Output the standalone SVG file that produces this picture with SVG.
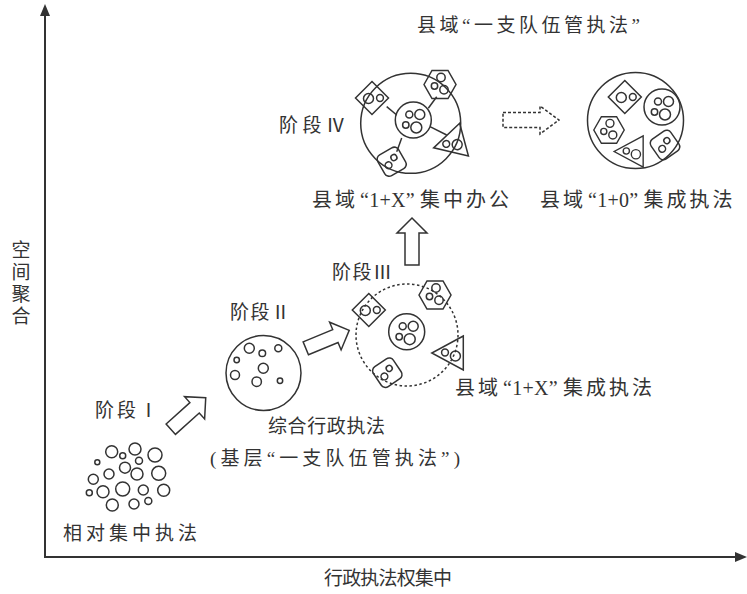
<svg xmlns="http://www.w3.org/2000/svg" xmlns:xlink="http://www.w3.org/1999/xlink" width="747" height="594" viewBox="0 0 747 594">
<style>
.s{fill:none;stroke:#333;stroke-width:1.5}
.ax{fill:none;stroke:#333;stroke-width:2}
.ah{fill:#333;stroke:none}
.blk{fill:#fff;stroke:#333;stroke-width:1.5;stroke-linejoin:miter}
.dsh{fill:#fff;stroke:#333;stroke-width:1.5;stroke-dasharray:3 2}
.dc{fill:none;stroke:#333;stroke-width:1.5;stroke-dasharray:2.5 2.5}
text{font-family:'Liberation Serif','Noto Sans CJK SC',serif;font-size:19px;fill:#333}
.big{font-size:20px}
.cj{letter-spacing:3px}
.lt{letter-spacing:0.3px}
</style>
<defs>
<polygon id="arr" points="0,-7 32,-7 32,-15 47,0 32,15 32,7 0,7"/>
<g id="dia" class="s"><polygon points="0,-16.5 16.5,0 0,16.5 -16.5,0"/><circle cx="-3.5" cy="0.5" r="5"/><circle cx="8" cy="0" r="3.4"/></g>
<g id="hex" class="s"><polygon points="-16,0 -8,-14 8,-14 16,0 8,14 -8,14"/><circle cx="1" cy="-7" r="4.2"/><circle cx="-5.5" cy="1.5" r="3.2"/><circle cx="4" cy="5.2" r="4.2"/></g>
<g id="tri" class="s"><polygon points="10.5,-17 -21,0 10.5,17"/><circle cx="-7.8" cy="-0.5" r="3.4"/><circle cx="2.6" cy="3" r="5"/></g>
<g id="rsq" class="s"><rect x="-12" y="-12" width="24" height="24" rx="5"/><circle cx="-4.5" cy="1.5" r="3.4"/><circle cx="4" cy="-2.5" r="3"/></g>
<g id="clu" class="s"><circle r="18"/><circle cx="-4" cy="-5.5" r="3.5"/><circle cx="6.5" cy="-5.5" r="5"/><circle cx="-7.5" cy="5" r="3.2"/><circle cx="3" cy="7.5" r="5.5"/></g>
</defs>

<g id="axes">
<line class="ax" x1="45" y1="557" x2="45" y2="14"/>
<polygon class="ah" points="45,4 40,16 50,16"/>
<line class="ax" x1="44" y1="557" x2="736" y2="557"/>
<polygon class="ah" points="747,557 735,552 735,562"/>
</g>

<g id="stage1" class="s">
<circle cx="111.7" cy="451.7" r="6"/><circle cx="122.7" cy="455.7" r="3"/><circle cx="135" cy="449" r="6"/>
<circle cx="155" cy="455" r="7"/><circle cx="97.3" cy="462.3" r="2.5"/><circle cx="125" cy="467.7" r="5.5"/>
<circle cx="139" cy="460.7" r="3.5"/><circle cx="109" cy="474" r="5"/><circle cx="137" cy="474" r="6"/>
<circle cx="158.7" cy="473.3" r="7"/><circle cx="93.3" cy="479.3" r="5"/><circle cx="122.7" cy="489" r="7"/>
<circle cx="103" cy="491.7" r="6"/><circle cx="143.3" cy="490" r="5"/><circle cx="163.7" cy="490.3" r="6"/>
<circle cx="89.3" cy="492.7" r="3"/><circle cx="112.3" cy="505" r="6"/><circle cx="134" cy="504" r="5"/>
<circle cx="148.3" cy="501" r="3.5"/>
</g>

<g id="stage2" class="s">
<circle cx="263.5" cy="373" r="37.5"/>
<circle cx="249.3" cy="348.3" r="5"/><circle cx="262.3" cy="353.3" r="3.3"/><circle cx="278.3" cy="348.3" r="3.5"/>
<circle cx="236.7" cy="360" r="2.7"/><circle cx="263.3" cy="368.3" r="5"/><circle cx="235" cy="375" r="4.5"/>
<circle cx="256.7" cy="381.7" r="4.7"/><circle cx="280" cy="380.7" r="2.7"/>
</g>

<g id="stage3">
<circle class="dc" cx="407" cy="335" r="51"/>
<use xlink:href="#clu" href="#clu" transform="translate(406.7,331.7)"/>
<use xlink:href="#dia" href="#dia" transform="translate(368.8,310)"/>
<use xlink:href="#hex" href="#hex" transform="translate(435,295)"/>
<use xlink:href="#tri" href="#tri" transform="translate(452.8,353)"/>
<use xlink:href="#rsq" href="#rsq" transform="translate(387.3,372.7) rotate(-34)"/>
</g>

<g id="stage4">
<circle class="s" cx="410.7" cy="123.3" r="50"/>
<g class="s">
<line x1="396.7" y1="115" x2="386.7" y2="106.7"/>
<line x1="428.3" y1="108.3" x2="436.7" y2="96.7"/>
<line x1="430" y1="126.7" x2="446.7" y2="135"/>
<line x1="401.7" y1="138" x2="396.7" y2="151.7"/>
</g>
<use xlink:href="#clu" href="#clu" transform="translate(413.3,120)"/>
<use xlink:href="#dia" href="#dia" transform="translate(372,98)"/>
<use xlink:href="#hex" href="#hex" transform="translate(440,84.5)"/>
<use xlink:href="#tri" href="#tri" transform="translate(453.9,142.4) rotate(-15)"/>
<use xlink:href="#rsq" href="#rsq" transform="translate(391.7,161.7) rotate(-30)"/>
</g>

<g id="final">
<circle class="s" cx="635.5" cy="120.5" r="48"/>
<use xlink:href="#dia" href="#dia" transform="translate(624.8,97)"/>
<use xlink:href="#clu" href="#clu" transform="translate(662,107)"/>
<use xlink:href="#hex" href="#hex" transform="translate(609,130) scale(0.95)"/>
<use xlink:href="#tri" href="#tri" transform="translate(633.5,151.5) scale(0.92)"/>
<use xlink:href="#rsq" href="#rsq" transform="translate(665,145) rotate(-35)"/>
</g>

<g id="connectors">
<use xlink:href="#arr" href="#arr" class="blk" transform="translate(170.8,429.2) rotate(-42)"/>
<use xlink:href="#arr" href="#arr" class="blk" transform="translate(305.8,348.3) rotate(-22.5)"/>
<use xlink:href="#arr" href="#arr" class="blk" transform="translate(412,265) rotate(-90)"/>
<polygon class="dsh" points="503,112.5 540,112.5 540,106 559,120 540,134 540,127.5 503,127.5"/>
</g>

<g id="labels">
<text x="417" y="32" textLength="223" lengthAdjust="spacing">县域“一支队伍管执法”</text>
<text x="279" y="132" textLength="66" lengthAdjust="spacing">阶段Ⅳ</text>
<text class="big" x="312" y="207"><tspan class="cj">县域</tspan><tspan class="lt" dx="2">“1+X”</tspan><tspan class="cj" dx="5">集中办公</tspan></text>
<text class="big" x="540" y="207"><tspan class="cj">县域</tspan><tspan class="lt" dx="2">“1+0”</tspan><tspan class="cj" dx="5">集成执法</tspan></text>
<text x="332" y="279" textLength="60" lengthAdjust="spacing">阶段Ⅲ</text>
<text x="230" y="319" textLength="60" lengthAdjust="spacing">阶段Ⅱ</text>
<text class="big" x="455" y="395"><tspan class="cj">县域</tspan><tspan class="lt" dx="2">“1+X”</tspan><tspan class="cj" dx="5">集成执法</tspan></text>
<text x="95" y="417" textLength="63" lengthAdjust="spacing">阶段Ⅰ</text>
<text x="268" y="433" textLength="117" lengthAdjust="spacing">综合行政执法</text>
<text x="210" y="465" textLength="250" lengthAdjust="spacing">(基层“一支队伍管执法”)</text>
<text x="63" y="540" textLength="134" lengthAdjust="spacing">相对集中执法</text>
<text x="324" y="585" textLength="128" lengthAdjust="spacing">行政执法权集中</text>
<text x="21" y="257" text-anchor="middle">空</text>
<text x="21" y="279" text-anchor="middle">间</text>
<text x="21" y="301" text-anchor="middle">聚</text>
<text x="21" y="323" text-anchor="middle">合</text>
</g>
</svg>
